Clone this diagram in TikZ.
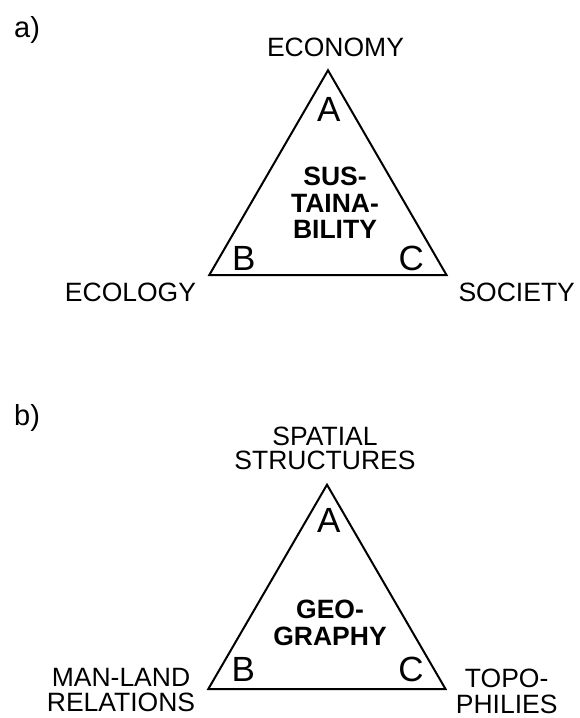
\documentclass[tikz,border=0pt]{standalone}
\usepackage{fontspec}
\setmainfont{Liberation Sans}
\begin{document}
\begin{tikzpicture}[x=1pt,y=-1pt,
  tri/.style={draw=black,line width=2pt,line join=miter},
  lbl/.style={inner sep=0pt,anchor=base,align=center,font=\fontsize{26.5}{25.5}\selectfont},
  corner/.style={inner sep=0pt,anchor=base,font=\fontsize{35}{38}\selectfont},
  core/.style={inner sep=0pt,anchor=base,align=center,font=\fontsize{26.5}{26.3}\selectfont\bfseries},
  part/.style={inner sep=0pt,anchor=base west,font=\fontsize{29}{30}\selectfont}]
\useasboundingbox (0,0) rectangle (580,718);
% ---- a) ----
\node[part] (pa) at (14,37.5) {a)};
\coordinate (a1) at (328,70.3);
\coordinate (a2) at (209.3,275);
\coordinate (a3) at (446.5,275);
\draw[tri] (a1) -- (a2) -- (a3) -- cycle;
\node[lbl] (econ) at (335.5,56.7) {ECONOMY};
\node[lbl] (ecol) at (130.5,301) {ECOLOGY};
\node[lbl] (soc) at (516.7,301.5) {SOCIETY};
\node[corner] (aA) at (328.7,121.7) {A};
\node[corner] (aB) at (243.8,270) {B};
\node[corner] (aC) at (411.3,270) {C};
\node[core] (sust) at (335,238.5) {SUS-\\TAINA-\\BILITY};
% ---- b) ----
\node[part] (pb) at (14,425.5) {b)};
\coordinate (b1) at (327,484.7);
\coordinate (b2) at (208.3,689);
\coordinate (b3) at (445.5,689);
\draw[tri] (b1) -- (b2) -- (b3) -- cycle;
\node[lbl,font=\fontsize{26.5}{24.3}\selectfont] (spat) at (325,469.3) {SPATIAL\\STRUCTURES};
\node[lbl] (man) at (121,711.5) {MAN-LAND\\RELATIONS};
\node[lbl,font=\fontsize{26.5}{26.3}\selectfont] (topo) at (506.7,713.3) {TOPO-\\PHILIES};
\node[corner] (bA) at (328.7,532.5) {A};
\node[corner] (bB) at (243.3,681.7) {B};
\node[corner] (bC) at (411,681.7) {C};
\node[core] (geo) at (330,645) {GEO-\\GRAPHY};
\end{tikzpicture}
\end{document}
